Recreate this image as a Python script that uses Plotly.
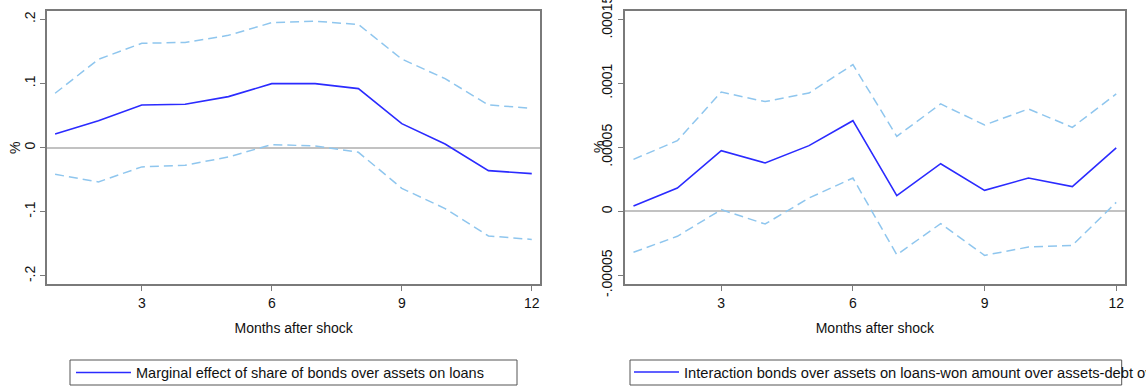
import plotly.graph_objects as go

months = [1, 2, 3, 4, 5, 6, 7, 8, 9, 10, 11, 12]

# Left panel: marginal effect of share of bonds over assets on loans
left_est = [0.0213, 0.042, 0.0665, 0.0675, 0.0795, 0.0997, 0.0997, 0.092, 0.0374, 0.0057, -0.0358, -0.0405]
left_hi = [0.0847, 0.1377, 0.1626, 0.164, 0.175, 0.1948, 0.197, 0.192, 0.138, 0.1075, 0.0665, 0.0613]
left_lo = [-0.0416, -0.0535, -0.030, -0.0275, -0.0145, 0.0047, 0.0026, -0.0073, -0.0634, -0.095, -0.1377, -0.143]

# Right panel: interaction effect
right_est = [0.42e-5, 1.82e-5, 4.74e-5, 3.78e-5, 5.13e-5, 7.08e-5, 1.22e-5, 3.72e-5, 1.64e-5, 2.6e-5, 1.93e-5, 4.95e-5]
right_hi = [4.06e-5, 5.52e-5, 9.32e-5, 8.57e-5, 9.24e-5, 11.46e-5, 5.86e-5, 8.39e-5, 6.74e-5, 8.0e-5, 6.56e-5, 9.17e-5]
right_lo = [-3.2e-5, -1.95e-5, 0.13e-5, -0.99e-5, 1.04e-5, 2.6e-5, -3.39e-5, -0.96e-5, -3.44e-5, -2.79e-5, -2.66e-5, 0.7e-5]

x_ticks = [3, 6, 9, 12]
left_yticks = [-0.2, -0.1, 0, 0.1, 0.2]
left_yticktext = ["-.2", "-.1", "0", ".1", ".2"]
right_yticks = [-0.00005, 0, 0.00005, 0.0001, 0.00015]
right_yticktext = ["-.00005", "0", ".00005", ".0001", ".00015"]

left_name = "Marginal effect of share of bonds over assets on loans"
right_name = "Interaction bonds over assets on loans-won amount over assets-debt over assets"
x_title = "Months after shock"
y_title = "%"

W, H = 1146, 387
FONT = "Arial, Liberation Sans, sans-serif"
MAIN = "#2b2bff"
CI = "#8fc6ee"
FRAME = "#7a7a7a"
TXT = "#111111"

def px(x):
    return x / W

def py(y):
    return 1 - y / H

fig = go.Figure()

for xa, ya, est, hi, lo, name, leg in [
    ("x", "y", left_est, left_hi, left_lo, left_name, "legend"),
    ("x2", "y2", right_est, right_hi, right_lo, right_name, "legend2"),
]:
    fig.add_trace(go.Scatter(x=months, y=hi, mode="lines", xaxis=xa, yaxis=ya,
                             line=dict(color=CI, width=1.5, dash="9px,5px"),
                             showlegend=False, hoverinfo="skip"))
    fig.add_trace(go.Scatter(x=months, y=lo, mode="lines", xaxis=xa, yaxis=ya,
                             line=dict(color=CI, width=1.5, dash="9px,5px"),
                             showlegend=False, hoverinfo="skip"))
    fig.add_trace(go.Scatter(x=months, y=est, mode="lines", xaxis=xa, yaxis=ya,
                             line=dict(color=MAIN, width=1.6),
                             name=name, legend=leg, showlegend=True))

axis_common = dict(showline=True, linecolor=FRAME, linewidth=2, mirror=True,
                   ticks="outside", ticklen=5, tickcolor=FRAME, tickwidth=1.2,
                   showgrid=False, ticklabeloverflow="allow",
                   tickfont=dict(family=FONT, size=14, color=TXT))

ydom = [py(284.3), py(10.7)]

fig.update_layout(
    width=W, height=H,
    margin=dict(l=0, r=0, t=0, b=0, autoexpand=False),
    paper_bgcolor="white", plot_bgcolor="white",
    font=dict(family=FONT, size=14, color=TXT),
    xaxis=dict(domain=[px(47.3), px(540)], range=[0.82, 12.19], anchor="y",
               tickvals=x_ticks, zeroline=False,
               title=dict(text=x_title, standoff=13, font=dict(size=14)), **axis_common),
    yaxis=dict(domain=ydom, range=[-0.213, 0.2134], anchor="x",
               tickvals=left_yticks, ticktext=left_yticktext, tickangle=-90,
               zeroline=True, zerolinecolor="#c2c2c2", zerolinewidth=2, **axis_common),
    xaxis2=dict(domain=[px(624.7), px(1125)], range=[0.8, 12.2], anchor="y2",
                tickvals=x_ticks, zeroline=False,
                title=dict(text=x_title, standoff=13, font=dict(size=14)), **axis_common),
    yaxis2=dict(domain=ydom, range=[-0.000057, 0.0001567], anchor="x2",
                tickvals=right_yticks, ticktext=right_yticktext, tickangle=-90,
                zeroline=True, zerolinecolor="#c2c2c2", zerolinewidth=2, **axis_common),
    legend=dict(x=px(71), y=py(372.5), xanchor="left", yanchor="middle",
                bgcolor="rgba(0,0,0,0)", borderwidth=0, itemwidth=55,
                font=dict(family=FONT, size=14.5, color=TXT)),
    legend2=dict(x=px(629), y=py(372.5), xanchor="left", yanchor="middle",
                 bgcolor="rgba(0,0,0,0)", borderwidth=0, itemwidth=45,
                 font=dict(family=FONT, size=14.7, color=TXT)),
    showlegend=True,
)

# Legend boxes (fixed-size frames as in the original)
fig.add_shape(type="rect", xref="paper", yref="paper",
              x0=px(70), x1=px(517), y0=py(385), y1=py(360),
              line=dict(color="#555555", width=1), layer="below")
fig.add_shape(type="rect", xref="paper", yref="paper",
              x0=px(630), x1=px(1121.7), y0=py(385), y1=py(360),
              line=dict(color="#555555", width=1), layer="below")

# Rotated y-axis titles
fig.add_annotation(text=y_title, xref="paper", yref="paper", x=px(15), y=py(148),
                   xanchor="center", yanchor="middle",
                   showarrow=False, textangle=-90, font=dict(family=FONT, size=14, color=TXT))
fig.add_annotation(text=y_title, xref="paper", yref="paper", x=px(599), y=py(147),
                   xanchor="center", yanchor="middle",
                   showarrow=False, textangle=-90, font=dict(family=FONT, size=14, color=TXT))

fig.write_html("out.html", config={"displayModeBar": False},
               post_script="document.body.style.margin='0px';document.body.style.overflow='hidden';")
